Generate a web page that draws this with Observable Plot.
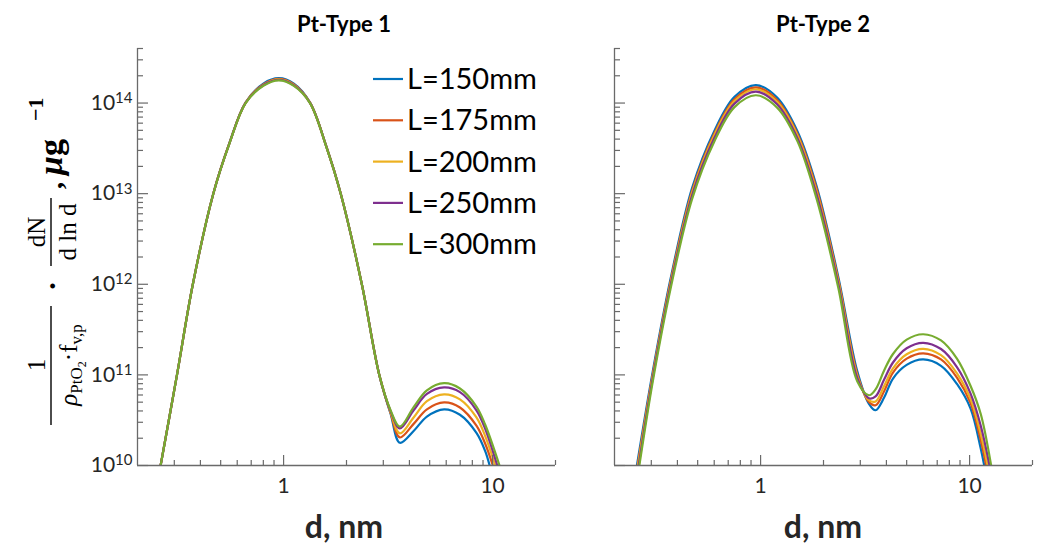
<!DOCTYPE html>
<html><head><meta charset="utf-8">
<script src="https://cdn.jsdelivr.net/npm/d3@7"></script>
<script src="https://cdn.jsdelivr.net/npm/@observablehq/plot@0.6"></script>
<style>
body{margin:0;background:#fff;}
#wrap{position:relative;width:1038px;height:548px;overflow:hidden;background:#fff;}
#wrap > svg{position:absolute;top:0;}
</style></head><body><div id="wrap"></div>
<script>
// ---------- data ----------
const seriesLabels = ["L=150mm", "L=175mm", "L=200mm", "L=250mm", "L=300mm"];
const seriesColors = ["#0072BD", "#D95319", "#EDB120", "#7E2F8E", "#77AC30"];
const panelTitles = ["Pt-Type 1", "Pt-Type 2"];
const xAxisLabel = "d, nm";
const xTickValues = [1, 10];
const yTickValues = [1e10, 1e11, 1e12, 1e13, 1e14];
const xMinorTicks = [0.3, 0.4, 0.5, 0.6, 0.7, 0.8, 0.9, 2, 3, 4, 5, 6, 7, 8, 9, 20];
const yMinorTicks = [2e10, 3e10, 4e10, 5e10, 6e10, 7e10, 8e10, 9e10,
  2e11, 3e11, 4e11, 5e11, 6e11, 7e11, 8e11, 9e11,
  2e12, 3e12, 4e12, 5e12, 6e12, 7e12, 8e12, 9e12,
  2e13, 3e13, 4e13, 5e13, 6e13, 7e13, 8e13, 9e13,
  2e14, 3e14, 4e14];
const xDomain = [0.2, 20];
const yDomain = [1e10, 4e14];
const floorValue = 1e10; // curves leave the plot at the bottom axis

// Pt-Type 1 (diameter in nm, values in 1/µg)
const type1Diameters = [0.309, 0.368, 0.461, 0.55, 0.658, 0.8, 0.95, 1.12, 1.338, 1.6, 1.877, 2.368, 2.87, 3.25, 3.6, 4.19, 4.85, 5.86, 6.98, 8.37, 9.2];
const type1Start = [0.258, 0.258, 0.258, 0.258, 0.258];
const type1End = [9.68, 10.03, 10.3, 10.53, 10.79];
const type1_L150 = [1e11, 1e12, 1e13, 3.6e13, 1.015e14, 1.64e14, 1.88e14, 1.64e14, 1.015e14, 3.35e13, 1e13, 1e12, 1e11, 3.72e10, 1.78e10, 2.40e10, 3.47e10, 4.17e10, 3.63e10, 2.29e10, 1.46e10];
const type1_L175 = [1e11, 1e12, 1e13, 3.58e13, 1.01e14, 1.61e14, 1.85e14, 1.61e14, 1.01e14, 3.34e13, 1e13, 1e12, 1e11, 3.80e10, 2.04e10, 2.88e10, 4.17e10, 4.97e10, 4.37e10, 2.75e10, 1.76e10];
const type1_L200 = [1e11, 1e12, 1e13, 3.57e13, 1.006e14, 1.59e14, 1.83e14, 1.59e14, 1.006e14, 3.33e13, 1e13, 1e12, 1e11, 3.89e10, 2.26e10, 3.39e10, 5.13e10, 6.10e10, 5.37e10, 3.39e10, 2.14e10];
const type1_L250 = [1e11, 1e12, 1e13, 3.56e13, 1.003e14, 1.57e14, 1.80e14, 1.57e14, 1.003e14, 3.32e13, 1e13, 1e12, 1e11, 3.98e10, 2.57e10, 4.07e10, 6.17e10, 7.28e10, 6.46e10, 4.07e10, 2.57e10];
const type1_L300 = [1e11, 1e12, 1e13, 3.55e13, 1e14, 1.55e14, 1.78e14, 1.55e14, 1e14, 3.31e13, 1e13, 1e12, 1e11, 4.07e10, 2.69e10, 4.41e10, 6.76e10, 8.11e10, 7.08e10, 4.47e10, 2.85e10];

// Pt-Type 2
const type2Diameters = [0.305, 0.37, 0.47, 0.6, 0.75, 0.95, 1.2, 1.5, 1.85, 2.35, 2.9, 3.3, 3.55, 3.9, 4.3, 5.0, 6.0, 7.3, 8.7, 10.1, 11.3];
const type2Start = [0.256, 0.258, 0.259, 0.261, 0.263];
const type2End = [11.75, 12.0, 12.2, 12.45, 12.68];
const type2_L150 = [1.10e11, 1.12e12, 1.15e13, 4.90e13, 1.17e14, 1.58e14, 1.15e14, 4.90e13, 1.23e13, 1.23e12, 1.10e11, 4.79e10, 4.07e10, 5.62e10, 9.12e10, 1.29e11, 1.48e11, 1.26e11, 7.94e10, 4.27e10, 1.55e10];
const type2_L175 = [1.02e11, 1.05e12, 1.07e13, 4.60e13, 1.10e14, 1.49e14, 1.08e14, 4.60e13, 1.15e13, 1.15e12, 1.02e11, 5.01e10, 4.62e10, 6.61e10, 1.06e11, 1.51e11, 1.73e11, 1.48e11, 9.33e10, 4.90e10, 1.91e10];
const type2_L200 = [9.77e10, 1.00e12, 1.02e13, 4.40e13, 1.05e14, 1.42e14, 1.03e14, 4.40e13, 1.07e13, 1.10e12, 9.77e10, 5.25e10, 5.09e10, 7.52e10, 1.18e11, 1.69e11, 1.94e11, 1.65e11, 1.04e11, 5.43e10, 2.24e10];
const type2_L250 = [9.27e10, 9.48e11, 9.55e12, 4.08e13, 9.86e13, 1.34e14, 9.70e13, 4.10e13, 9.95e12, 1.03e12, 9.27e10, 5.53e10, 5.78e10, 8.87e10, 1.37e11, 1.97e11, 2.26e11, 1.93e11, 1.22e11, 6.24e10, 2.76e10];
const type2_L300 = [8.51e10, 8.71e11, 8.71e12, 3.75e13, 9.02e13, 1.22e14, 8.91e13, 3.80e13, 8.91e12, 9.33e11, 8.51e10, 5.96e10, 6.92e10, 1.12e11, 1.70e11, 2.45e11, 2.81e11, 2.40e11, 1.51e11, 7.59e10, 3.72e10];

// ---------- build tables ----------
function buildRows(diameters, start, end, seriesValues) {
  const rows = [];
  seriesValues.forEach((vals, i) => {
    const s = seriesLabels[i];
    rows.push({d: start[i], v: floorValue, s});
    diameters.forEach((d, j) => rows.push({d, v: vals[j], s}));
    rows.push({d: end[i], v: floorValue, s});
  });
  return rows;
}
const panels = [
  {title: panelTitles[0], rows: buildRows(type1Diameters, type1Start, type1End, [type1_L150, type1_L175, type1_L200, type1_L250, type1_L300])},
  {title: panelTitles[1], rows: buildRows(type2Diameters, type2Start, type2End, [type2_L150, type2_L175, type2_L200, type2_L250, type2_L300])}
];

// ---------- layout ----------
const H = 548, MT = 48, MB = 83;
const layouts = [
  {left: 0, width: 560, ml: 137, mr: 5, showY: true},
  {left: 520, width: 518, ml: 94, mr: 6, showY: false}
];
const axisColor = "#6a6a6a";
const wrap = document.getElementById("wrap");

panels.forEach((p, k) => {
  const L = layouts[k];
  const innerW = L.width - L.ml - L.mr;
  const innerH = H - MT - MB;
  const svg = Plot.plot({
    width: L.width, height: H,
    marginLeft: L.ml, marginRight: L.mr, marginTop: MT, marginBottom: MB,
    style: {fontFamily: "Lato, 'Open Sans', sans-serif", fontSize: "21px", color: "#262626", background: "transparent", overflow: "visible"},
    x: {type: "log", domain: xDomain, ticks: xTickValues, tickFormat: d => String(d), tickSize: 0, tickPadding: 13, label: null},
    y: L.showY
      ? {type: "log", domain: yDomain, ticks: yTickValues, tickFormat: d => "10^" + Math.round(Math.log10(d)), tickSize: 0, tickPadding: 5, label: null}
      : {type: "log", domain: yDomain, axis: null},
    color: {domain: seriesLabels, range: seriesColors},
    marks: [
      Plot.line(p.rows, {x: "d", y: "v", z: "s", stroke: "s", strokeWidth: 2.2, curve: "catmull-rom", clip: true}),
      Plot.ruleX([xDomain[0]], {stroke: axisColor, strokeWidth: 1.3}),
      Plot.ruleY([yDomain[0]], {stroke: axisColor, strokeWidth: 1.3}),
      Plot.tickX(xTickValues, {x: d => d, stroke: axisColor, strokeWidth: 1.2, insetTop: innerH - 10}),
      Plot.tickX(xMinorTicks, {x: d => d, stroke: axisColor, strokeWidth: 1.2, insetTop: innerH - 5}),
      Plot.tickY(yTickValues, {y: d => d, stroke: axisColor, strokeWidth: 1.2, insetRight: innerW - 11}),
      Plot.tickY(yMinorTicks, {y: d => d, stroke: axisColor, strokeWidth: 1.2, insetRight: innerW - 6})
    ]
  });
  svg.style.left = L.left + "px";
  // superscript exponents on y tick labels
  d3.select(svg).selectAll("text").each(function() {
    const t = this.textContent;
    const m = /^10\^(\d+)$/.exec(t);
    if (m) {
      const sel = d3.select(this);
      sel.text("");
      sel.append("tspan").text("10");
      sel.append("tspan").attr("dy", "-0.45em").attr("font-size", "15px").text(m[1]);
    }
  });
  wrap.appendChild(svg);
});

// ---------- overlay: titles, axis labels, legend ----------
const ov = d3.select(wrap).append("svg")
  .attr("width", 1038).attr("height", H)
  .style("left", "0px").style("pointer-events", "none");

const centers = [344, 823];
centers.forEach((cx, k) => {
  ov.append("text").attr("x", cx).attr("y", 32).attr("text-anchor", "middle")
    .attr("font-family", "Lato, sans-serif").attr("font-weight", "bold").attr("font-size", 22)
    .attr("fill", "#000").text(panelTitles[k]);
  ov.append("text").attr("x", cx).attr("y", 538).attr("text-anchor", "middle")
    .attr("font-family", "Lato, sans-serif").attr("font-weight", "bold").attr("font-size", 32)
    .attr("fill", "#262626").text(xAxisLabel);
});

// legend
const leg = ov.append("g");
seriesLabels.forEach((lab, i) => {
  const cy = 79 + i * 41.3;
  leg.append("line").attr("x1", 373).attr("x2", 403).attr("y1", cy).attr("y2", cy)
    .attr("stroke", seriesColors[i]).attr("stroke-width", 2.2);
  leg.append("text").attr("x", 407).attr("y", cy + 10)
    .attr("font-family", "Lato, sans-serif").attr("font-size", 29).attr("fill", "#000").text(lab);
});

// y label (math expression), rotated
const serif = "'Liberation Serif', 'DejaVu Serif', serif";
const yl = ov.append("g").attr("transform", "translate(62,425) rotate(-90)")
  .attr("font-family", serif).attr("fill", "#000");
yl.append("text").attr("x", 60).attr("y", -17).attr("text-anchor", "middle").attr("font-size", 25).text("1");
yl.append("line").attr("x1", 0).attr("x2", 119).attr("y1", -11).attr("y2", -11).attr("stroke", "#000").attr("stroke-width", 1.4);
const den = yl.append("text").attr("x", 60).attr("y", 15).attr("text-anchor", "middle").attr("font-size", 25);
den.append("tspan").attr("font-style", "italic").text("ρ");
den.append("tspan").attr("font-size", 17).attr("dy", 5).text("PtO");
den.append("tspan").attr("font-size", 12).attr("dy", 4).text("2");
den.append("tspan").attr("dy", -9).text("·f");
den.append("tspan").attr("font-size", 17).attr("dy", 5).text("v,p");
yl.append("text").attr("x", 139).attr("y", 0).attr("text-anchor", "middle").attr("font-size", 30).attr("font-weight", "bold").text("·");
yl.append("text").attr("x", 193).attr("y", -17).attr("text-anchor", "middle").attr("font-size", 25).text("dN");
yl.append("line").attr("x1", 159).attr("x2", 227).attr("y1", -11).attr("y2", -11).attr("stroke", "#000").attr("stroke-width", 1.4);
yl.append("text").attr("x", 193).attr("y", 14).attr("text-anchor", "middle").attr("font-size", 25).text("d ln d");
yl.append("text").attr("x", 236).attr("y", 0).attr("font-size", 28).attr("font-weight", "bold").text(",");
const mu = yl.append("text").attr("x", 250).attr("y", 0).attr("font-size", 34).attr("font-weight", "bold");
mu.append("tspan").attr("font-style", "italic").text("μ");
mu.append("tspan").text("g");
yl.append("text").attr("x", 304).attr("y", -19).attr("font-size", 22).attr("font-weight", "bold").text("−1");
</script>
</body></html>
